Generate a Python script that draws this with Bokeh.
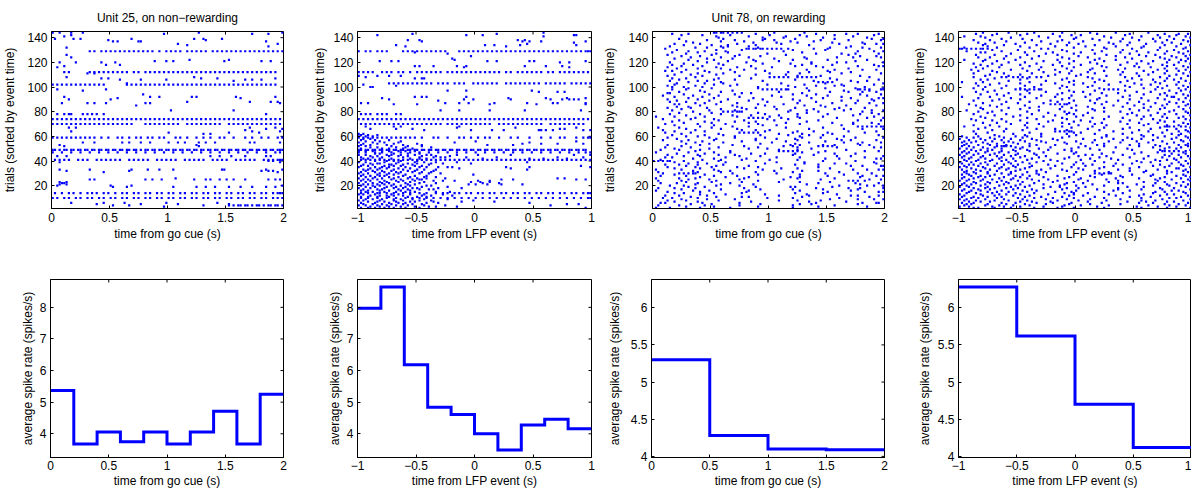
from bokeh.plotting import figure
from bokeh.models import FixedTicker, Range1d
from bokeh.layouts import row, column
from bokeh.embed import file_html
from bokeh.resources import INLINE

FONT = "Liberation Sans"
BLUE = "#0000ff"
FS = "12px"

# ---------------- tick definitions ----------------
go_ticks = [0, 0.5, 1, 1.5, 2]
go_tick_labels = ["0", "0.5", "1", "1.5", "2"]
lfp_ticks = [-1, -0.5, 0, 0.5, 1]
lfp_tick_labels = ["\u22121", "\u22120.5", "0", "0.5", "1"]
trial_ticks = [20, 40, 60, 80, 100, 120, 140]
trial_tick_labels = ["20", "40", "60", "80", "100", "120", "140"]
rate_ticks_u25 = [4, 5, 6, 7, 8]
rate_tick_labels_u25 = ["4", "5", "6", "7", "8"]
rate_ticks_u78 = [4, 4.5, 5, 5.5, 6]
rate_tick_labels_u78 = ["4", "4.5", "5", "5.5", "6"]

# ---------------- histogram data (average spike rate, spikes/s) ----------------
go_edges_10 = [0.0, 0.2, 0.4, 0.6, 0.8, 1.0, 1.2, 1.4, 1.6, 1.8, 2.0]
lfp_edges_10 = [-1.0, -0.8, -0.6, -0.4, -0.2, 0.0, 0.2, 0.4, 0.6, 0.8, 1.0]
go_edges_4 = [0.0, 0.5, 1.0, 1.5, 2.0]
lfp_edges_4 = [-1.0, -0.5, 0.0, 0.5, 1.0]
rate_u25_go = [5.37, 3.675, 4.06, 3.75, 4.06, 3.675, 4.06, 4.71, 3.675, 5.25]
rate_u25_lfp = [7.97, 8.64, 6.18, 4.84, 4.61, 4.0, 3.49, 4.28, 4.46, 4.16]
rate_u78_go = [5.30, 4.28, 4.10, 4.09]
rate_u78_lfp = [6.28, 5.62, 4.70, 4.12]

# ---------------- raster data ----------------
# each spike is a 2-digit code = index of its 20 ms bin inside the 2 s window
# Unit 25: {trial: codes}
raster_u25_go = {
144: "000308136399", 143: "488693", 142: "08", 141: "05",
139: "01091234616573", 138: "2466", 137: "2628373892", 135: "5497",
134: "58", 133: "93", 132: "06",
129: "16182123252729313335373941434649515355586062646669717375777981838587899193959799",
126: "06", 124: "08", 122: "5976", 121: "444952749094", 120: "03102127",
118: "2329", 117: "05", 116: "02",
112: "050716182022242628303235374042444648505254565860626466687072747678808284868890929496",
111: "1518", 108: "0661", 107: "2124647196", 106: "293849838690", 105: "78", 103: "32",
102: "000204060810121416182022323436384042444648505254565860626466687072747678808284868890929496",
98: "0223", 97: "13", 94: "39", 92: "05424660627996", 91: "2881", 90: "0725",
88: "58859497", 87: "04151823404298", 85: "36", 81: "5178",
78: "02050708131517192292",
74: "0002040608101214161820222426283032343638404244464850525456586062646668707274767880828486889092949698",
70: "00020406081012141618202224262830323440424446485052545860626466687072767880828486889092949698",
67: "07108596", 66: "9299", 65: "83", 64: "088698", 63: "507689", 62: "6568",
59: "000204060810121416182124283033363841434648535558626568727478838690939799",
55: "131830333842505457636670858798", 53: "0362", 52: "0563",
49: "00010305060809111214151718202123242627293032333536384041434446474950525355565859616264656768707173747677798082838586888991929495979899",
47: "0004081216202428323640444852566064687276808488929698",
44: "0206687277839294",
41: "01030507111315192123252729333537394145474951535759616365697173757981838587919395979899",
40: "9395", 39: "0398",
33: "03163441465273749299", 32: "0633909395", 31: "2297", 26: "53",
25: "161840434761666872757883939698", 23: "0306", 22: "0405", 21: "0306",
20: "02253499", 19: "2632526266707681869296",
14: "0104070912151719222427303235374042454750525557606265677072757780828587909295979899",
10: "0002050710121517202225273032353740424547505255576062656770727577808285879092959799",
6: "0822314971", 5: "19385476", 4: "263365767880818384868889919394969799", 3: "48",
}

raster_u25_lfp = {
144: "79", 143: "2359", 142: "0846539293", 141: "79",
138: "21266871", 137: "2770737897", 136: "92", 135: "72", 134: "1654586993", 133: "2063",
129: "00030508101219212325272931333537434547495153555759616365676971737577798183858789919395979899",
128: "24", 127: "38", 125: "48", 123: "40", 122: "41", 121: "0914175559737597", 120: "8690",
117: "2426324246718087", 116: "4590",
112: "000204061012141719222527293133353840424446485052545658606365687072747678818386889092949698",
109: "00081318", 108: "03", 107: "242728",
103: "13151719212325272931343638414345495153555759636567697173757780828486889193959799",
102: "02", 101: "16", 100: "0506", 97: "384674", 96: "778588",
92: "24272946", 91: "1064808997", 90: "134549658287909294", 89: "34",
87: "01043743475872838597", 86: "1525567697", 81: "3543567195",
78: "0103050810121618",
74: "0002040608101214161820222426283032343638404244464850525456586062646668707274767880828486889092949698",
70: "01030507091113151719212325272931333538404244464850525456606264666870727476788284868890929496",
68: "03151843", 67: "426793", 66: "0516238688", 65: "28485762777880839699",
62: "0002", 61: "010408", 60: "000306",
59: "0002040608101214161820222427323438434548515456606568737882868893969899",
58: "0205", 57: "010713", 56: "0309185093", 55: "000611174173", 54: "0208152570788596",
53: "01051219275566", 52: "0003142127", 51: "0508162031", 50: "0110131923",
49: "000103040607091012131516181921222425272830313334363739404243454648495152545557586061636466676970727375767879818284858788909193949697",
48: "0003061013172024",
47: "000307101418222630343842465054586266707478828690949799",
46: "0709152126", 45: "00031214182429314251659299", 44: "0508131721273339",
43: "010610192632353746598596", 42: "0204091422262953737989",
41: "0103050709111315171921232527293133353739414345474951535557596163656769717375777981838587899193959799",
40: "0712151825", 39: "000311172428334272", 38: "050809162125313648", 37: "02061314192330",
36: "0104111518242795", 35: "00071013202629343840637399", 34: "05091217224365",
33: "020408151925283372", 32: "03061014212432", 31: "0107111618232731", 30: "0004091317263035",
29: "020812152049", 28: "01050911192429", 27: "03071317222833", 26: "00061015212529378588",
25: "020408141823262761669397", 24: "0105111619243236415156", 23: "030912172228485256",
22: "000610132026335360", 21: "020408111521244750556170", 20: "0106091418222931",
19: "03071216202738", 18: "000511151923253444", 17: "0208101721263032", 16: "010409131822",
15: "0306111620243339",
14: "0104080912151922262933363841434648515356586163666871737678818386889193969899",
13: "0002071417222836", 12: "0509121519273140", 11: "01040813212529",
10: "010408121620232629323538414447505356596265687174778083868992959899",
9: "0306101518232838", 8: "0002091519263149", 7: "040811162224324458", 6: "0107131720293473",
5: "020610141923279489", 4: "000308121621283782", 3: "0509131824303342", 2: "0104071115202697",
1: "020611192530",
}

# Unit 78: one string per trial, from trial 144 (first) down to trial 1
raster_u78_go = [
"26272930323436385265","08154470838897","12213350637895","2741576686","2847567392","11304861789499",
"23354752728498","1429395969","174353627790","0920365580919699","1325324467","3207294185",
"1823304576839098","054041434446474951535558697593","1027386074","15223156889599","08193264","14274970818797",
"0625375784","122035468996","16294165798698","0923345266","152643607592","1932445487",
"07234068798399","1328475968","081730647795","1221426170889799","0627365173","1019294484",
"14333966789096","0508224875","12243558677685","193050638198","0916274457","062137627289",
"185052545658626466687093","0814284276","112635617997","07192347698592","15297173757788","102230557499",
"09263649658195","06183358707882","081321456191","15254566748799","081447495153555758888991939899","2034678293",
"1122295476849096","0607384264","13243560708998","04172851667592","0921375581","1526436873859799",
"061932476094","10244163818895","0714294970","1822366277879399","0911274556","20344865728396",
"1015527436","0616233844618091","12294053697885","0824355966829499","17303234363738587190","1125456694",
"0720294862758997","1434425486","0109223650627395","18414345476379929955","0416264958","11283952718898",
"0822354466","13254157779486","05193145638697","0926475381","20344188909294969899","0211255773",
"14293667829099","0418384450","09224862698496","05163739414345607591","1228547764","0822304658677397",
"1419356382","0624354864728799","102753794461","0415264462818596","1221385774","18305167829098",
"1424466188","062034597378899363","1239717375775660","0516284562799598","0924414968","031120548362",
"18545658606274919733","011526337164","10224248788761","061928356960","13203746798599","050831539163",
"17264074809698","032129385062","00020406071328447387","091931539565","15234878839665","051119307161",
"14274185909899","061825364571","092039765562","0112264786929799","172833715264","021929448060",
"0411131517183453748894","0922458263","0314263675909699","203141638959","011118397862","15243756729398",
"0212274584868891","142538765463","03101933718797","1829436689","0713273780929599","152244775961",
"0209183970848999","122946738860","011724418563","06204075919799","091326387361","2031487966",
"0511235467858897","162738419364","040819498060","12233576889599","061428547262","0919428367",
"0305213770909697","162546688863","021122377860","1426459271","0107203360","1228388166",
]

raster_u78_lfp = [
"10213244566781","071629405973889498","14264852718593","0209344362789097","1122385065748699","18274957708392",
"0613314460778996","20354253698498","0815284764738791","11243951668095","1019334658728899","12264154677993",
"0216304962788697","00010305070910123538637496","14254457708592","0318324661768998","0911284052698194","22374958738896",
"0715294263778499","20345167809197","0813264455718693","19314760748898","0211244258679095","1016364962788397",
"21284356728994","0614334759768199","0918264052698792","12304461758996","0717354963778298","10274657718893",
"0522344156688597","0814294862798994","16364355708399","0619314758768896","13264152698193","1121385063779098",
"061820232527303335557186","15294657748995","0912264460788392","21374962728897","0110304758698494","0717264153758699",
"13354964788293","0820284457718996","11324655738598","0618264360798794","1024262830323435626466688497","15294758719095",
"0712374953768299","21304461688893","0916264256798696","19354863738998","0113284154709192","0822334760788597",
"17264459738894","0614394956688199","20304263779096","1025364758728493","0418394143454661798998","0713285066758797",
"16344455708294","0921304862798899","10264357738696","0318345058778192","0814294562699097","12384755748598",
"0620314649728893","15264153768299","0923365064798796","11294457708994","0518334662788397","0714264052738699",
"20384956698892","1016294461778596","22344758728198","0613285163798994","0217364457888990929597","11294862738699",
"0820334155708293","14274660778997","0619414345474866819498","12304952748799","0723354658709195","15285063788394",
"0108172429354763798897","0306131927446172859398","0009152231405366787491","0411182633425870839599","0207142128355064768796","0105101923374557698192",
"0312162530465262778998","0208132033415973849497","01041618192022305462778698","0610152427395167839095","0003121826344856728893","0509142329384560748699",
"02071218243048878890929497","0104111721365066788596","0308152532424961759197","0006131924335457708894","0210162228375163819098","0105091826344760738795",
"0411172331455665799299","0208142029395268848993","0307131824364258768697","0005112127335062788294","0109162230445367749198","0406121925384957708695",
"0208152331415466839096","0003101824304862778899","0511172128395160739394","0107132026354453688597","0309162433465873808996","0206122229375064799198",
"030712182233586062646589","0104152127344961748396","0509132430425669829397","0208111926364758708899","0106172329455267778695","0410142231385163849198",
"0003091825344255688599","0612162027404964798896","0207132132465368708493","0105111926364557768998","0309172430435062839095","0004122228394354727997",
"0611152025364651688692","0208132331445968788799","0105091827335066739194","0412162129414862848896","0307142432454955708397","0009172026384964798992",
"0210152330475367778698","0106121828354458738295","0508162532404962789093","0003111927374656698799","0207152129425163788496","0409132631395572898092",
"0106182433404861778398","0305122028374756698894","0211172330455264819097","0004141926364459768593","0608152232424962788999","0103112027354758728496",
]


def decode_raster(rows, t0):
    if isinstance(rows, dict):
        items = list(rows.items())
    else:
        n = len(rows)
        items = [(n - i, r) for i, r in enumerate(rows)]
    xs, ys = [], []
    for trial, r in items:
        for k in range(0, len(r) - 1, 2):
            code = int(r[k:k + 2])
            xs.append(t0 + (code + 0.5) * 0.02)
            ys.append(trial)
    return xs, ys


def step_xy(edges, vals):
    xs, ys = [], []
    for i, v in enumerate(vals):
        xs += [edges[i], edges[i + 1]]
        ys += [v, v]
    return xs, ys


def style_axis(ax, ticks, labels, label, lstand, astand):
    ax.ticker = FixedTicker(ticks=ticks)
    ax.major_label_overrides = {float(t): s for t, s in zip(ticks, labels)}
    ax.axis_label = label
    ax.axis_label_text_font = FONT
    ax.axis_label_text_font_size = FS
    ax.axis_label_text_font_style = "normal"
    ax.axis_label_text_color = "black"
    ax.major_label_text_font = FONT
    ax.major_label_text_font_size = FS
    ax.major_label_text_color = "black"
    ax.major_tick_in = 3
    ax.major_tick_out = 0
    ax.major_tick_line_color = "black"
    ax.minor_tick_line_color = None
    ax.axis_line_color = "black"
    ax.major_label_standoff = lstand
    ax.axis_label_standoff = astand


def make_fig(w, h, bl, br, bt, bb, fw, fh, xr, yr, xt, xtl, yt, ytl, xlabel, ylabel,
             ystand, xl_stand=(4, 2), title=None, mirror_right=True):
    kw = dict(width=w, height=h, x_range=Range1d(*xr), y_range=Range1d(*yr),
              output_backend="svg", toolbar_location=None, tools="",
              min_border_left=bl, min_border_right=br, min_border_top=bt,
              min_border_bottom=bb, background_fill_color="white",
              border_fill_color="white")
    if title:
        kw["title"] = title
    p = figure(**kw)
    p.grid.visible = False
    p.outline_line_color = "black"
    p.outline_line_width = 1
    if title:
        p.title.align = "center"
        p.title.text_font = FONT
        p.title.text_font_size = FS
        p.title.text_font_style = "normal"
        p.title.text_color = "black"
        p.title.standoff = 13
    style_axis(p.xaxis[0], xt, xtl, xlabel, xl_stand[0], xl_stand[1])
    style_axis(p.yaxis[0], yt, ytl, ylabel, 4, ystand)
    # mirrored inward ticks on the top (and right) edges of the box
    tick_dy = 3.0 * (yr[1] - yr[0]) / fh
    p.segment(x0=xt, y0=[yr[1]] * len(xt), x1=xt, y1=[yr[1] - tick_dy] * len(xt),
              line_color="black", line_width=1)
    if mirror_right:
        tick_dx = 3.0 * (xr[1] - xr[0]) / fw
        p.segment(x0=[xr[1]] * len(yt), y0=yt, x1=[xr[1] - tick_dx] * len(yt), y1=yt,
                  line_color="black", line_width=1)
    return p


def add_raster(p, rows, t0):
    xs, ys = decode_raster(rows, t0)
    p.scatter(xs, ys, marker="square", size=2.2, fill_color=BLUE,
              line_color=None)


def add_steps(p, edges, vals):
    xs, ys = step_xy(edges, vals)
    p.line(xs, ys, line_width=3, line_color=BLUE, line_join="miter",
           line_cap="butt")


TRIAL_RANGE = (1.5, 145)
RATE_RANGE_U25 = (3.25, 8.88)
RATE_RANGE_U78 = (3.985, 6.38)
XL_GO = "time from go cue (s)"
XL_LFP = "time from LFP event (s)"
YL_TR = "trials (sorted by event time)"
YL_RATE = "average spike rate (spikes/s)"

p1 = make_fig(300, 250, 50, 17, 31, 42, 233, 177, (0, 2), TRIAL_RANGE, go_ticks, go_tick_labels,
              trial_ticks, trial_tick_labels, XL_GO, YL_TR, 7,
              title="Unit 25, on non\u2212rewarding")
add_raster(p1, raster_u25_go, 0.0)

p2 = make_fig(300, 250, 57, 9, 31, 42, 234, 177, (-1, 1), TRIAL_RANGE, lfp_ticks, lfp_tick_labels,
              trial_ticks, trial_tick_labels, XL_LFP, YL_TR, 3)
add_raster(p2, raster_u25_lfp, -1.0)

p3 = make_fig(300, 250, 51, 16, 31, 42, 233, 177, (0, 2), TRIAL_RANGE, go_ticks, go_tick_labels,
              trial_ticks, trial_tick_labels, XL_GO, YL_TR, 8,
              title="Unit 78, on rewarding")
add_raster(p3, raster_u78_go, 0.0)

p4 = make_fig(291, 250, 58, 0, 31, 42, 233, 177, (-1, 1), TRIAL_RANGE, lfp_ticks, lfp_tick_labels,
              trial_ticks, trial_tick_labels, XL_LFP, YL_TR, 4, mirror_right=False)
add_raster(p4, raster_u78_lfp, -1.0)

p5 = make_fig(300, 241, 50, 17, 29, 34, 233, 178, (0, 2), RATE_RANGE_U25, go_ticks, go_tick_labels,
              rate_ticks_u25, rate_tick_labels_u25, XL_GO, YL_RATE, 2, xl_stand=(3, 1))
add_steps(p5, go_edges_10, rate_u25_go)

p6 = make_fig(300, 241, 57, 9, 29, 34, 234, 178, (-1, 1), RATE_RANGE_U25, lfp_ticks, lfp_tick_labels,
              rate_ticks_u25, rate_tick_labels_u25, XL_LFP, YL_RATE, 2, xl_stand=(3, 1))
add_steps(p6, lfp_edges_10, rate_u25_lfp)

p7 = make_fig(300, 241, 51, 16, 29, 34, 233, 178, (0, 2), RATE_RANGE_U78, go_ticks, go_tick_labels,
              rate_ticks_u78, rate_tick_labels_u78, XL_GO, YL_RATE, 6, xl_stand=(3, 1))
add_steps(p7, go_edges_4, rate_u78_go)

p8 = make_fig(291, 241, 58, 0, 29, 34, 233, 178, (-1, 1), RATE_RANGE_U78, lfp_ticks, lfp_tick_labels,
              rate_ticks_u78, rate_tick_labels_u78, XL_LFP, YL_RATE, 3, xl_stand=(3, 1),
              mirror_right=False)
add_steps(p8, lfp_edges_4, rate_u78_lfp)

layout = column(row(p1, p2, p3, p4), row(p5, p6, p7, p8))

open("out.html", "w").write(file_html(layout, INLINE))
